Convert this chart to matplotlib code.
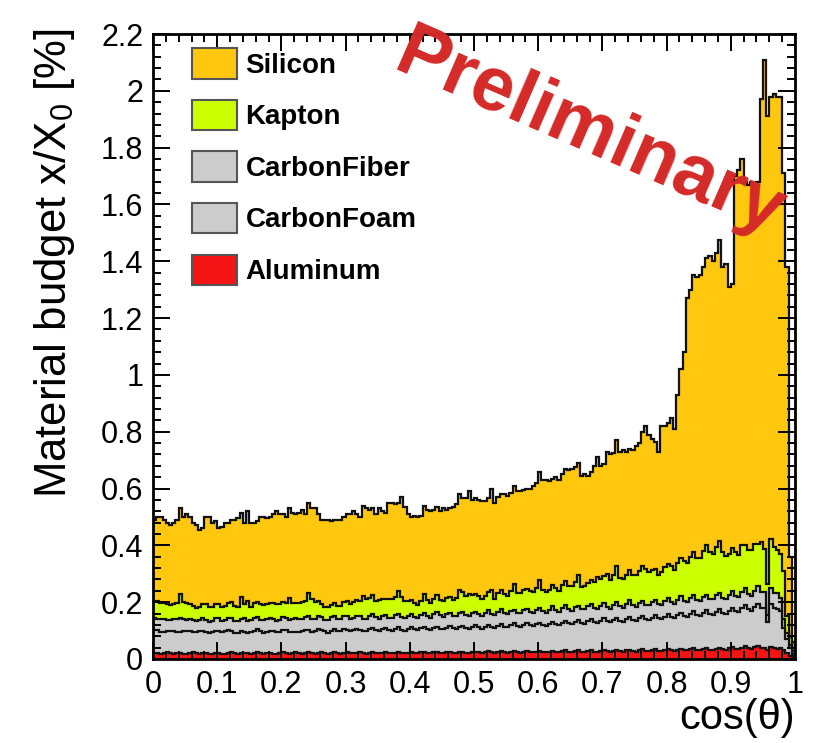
import numpy as np
import matplotlib
matplotlib.use("Agg")
import matplotlib.pyplot as plt
from matplotlib.patches import Patch
from matplotlib.ticker import MultipleLocator, FuncFormatter

plt.rcParams["font.family"] = ["Liberation Sans", "DejaVu Sans"]
plt.rcParams["mathtext.default"] = "regular"

# 200 bins in cos(theta) from 0 to 1
n_bins = 200
x_min, x_max = 0.0, 1.0

# material budget per bin, x/X0 in %
aluminum = [
    0.022, 0.020, 0.018, 0.021, 0.023, 0.020, 0.018, 0.020, 0.022, 0.019, 0.018, 0.021, 0.023, 0.020, 0.019, 0.020, 0.022, 0.019, 0.018, 0.021,
    0.022, 0.019, 0.018, 0.021, 0.023, 0.020, 0.018, 0.020, 0.022, 0.020, 0.019, 0.021, 0.023, 0.020, 0.018, 0.021, 0.022, 0.019, 0.019, 0.021,
    0.023, 0.020, 0.019, 0.021, 0.023, 0.020, 0.019, 0.021, 0.024, 0.020, 0.019, 0.021, 0.023, 0.021, 0.019, 0.021, 0.023, 0.020, 0.019, 0.022,
    0.023, 0.020, 0.020, 0.022, 0.024, 0.021, 0.019, 0.022, 0.024, 0.021, 0.020, 0.022, 0.024, 0.021, 0.020, 0.022, 0.025, 0.021, 0.020, 0.022,
    0.025, 0.021, 0.020, 0.023, 0.025, 0.022, 0.020, 0.023, 0.025, 0.022, 0.021, 0.023, 0.026, 0.022, 0.021, 0.023, 0.026, 0.022, 0.021, 0.024,
    0.026, 0.023, 0.021, 0.024, 0.027, 0.023, 0.022, 0.025, 0.027, 0.023, 0.022, 0.025, 0.028, 0.024, 0.022, 0.025, 0.028, 0.024, 0.023, 0.026,
    0.028, 0.025, 0.023, 0.026, 0.029, 0.025, 0.023, 0.027, 0.030, 0.025, 0.024, 0.027, 0.030, 0.026, 0.024, 0.028, 0.031, 0.026, 0.025, 0.028,
    0.031, 0.027, 0.025, 0.029, 0.032, 0.027, 0.026, 0.030, 0.033, 0.028, 0.026, 0.030, 0.034, 0.029, 0.027, 0.031, 0.035, 0.029, 0.028, 0.032,
    0.035, 0.030, 0.029, 0.033, 0.036, 0.031, 0.030, 0.034, 0.038, 0.032, 0.031, 0.035, 0.039, 0.033, 0.032, 0.036, 0.040, 0.034, 0.033, 0.037,
    0.041, 0.036, 0.034, 0.040, 0.045, 0.038, 0.036, 0.042, 0.046, 0.040, 0.037, 0.030, 0.044, 0.038, 0.036, 0.040, 0.030, 0.022, 0.012, 0.004,
]

carbon_foam = [
    0.080, 0.082, 0.078, 0.075, 0.074, 0.078, 0.080, 0.076, 0.072, 0.079, 0.081, 0.077, 0.073, 0.075, 0.078, 0.080, 0.074, 0.071, 0.076, 0.079,
    0.077, 0.075, 0.079, 0.081, 0.076, 0.073, 0.075, 0.078, 0.074, 0.071, 0.076, 0.079, 0.082, 0.078, 0.075, 0.073, 0.077, 0.080, 0.076, 0.074,
    0.078, 0.081, 0.077, 0.074, 0.072, 0.076, 0.079, 0.082, 0.078, 0.075, 0.079, 0.083, 0.080, 0.076, 0.074, 0.078, 0.081, 0.077, 0.080, 0.083,
    0.080, 0.077, 0.081, 0.084, 0.079, 0.076, 0.080, 0.083, 0.086, 0.081, 0.078, 0.082, 0.085, 0.081, 0.079, 0.083, 0.086, 0.082, 0.080, 0.084,
    0.087, 0.083, 0.081, 0.085, 0.088, 0.084, 0.082, 0.086, 0.089, 0.085, 0.083, 0.087, 0.090, 0.086, 0.084, 0.088, 0.091, 0.087, 0.085, 0.089,
    0.092, 0.088, 0.086, 0.090, 0.094, 0.089, 0.087, 0.092, 0.095, 0.091, 0.089, 0.093, 0.097, 0.092, 0.090, 0.095, 0.098, 0.094, 0.092, 0.096,
    0.100, 0.095, 0.094, 0.098, 0.103, 0.097, 0.096, 0.101, 0.105, 0.100, 0.098, 0.103, 0.107, 0.102, 0.100, 0.105, 0.110, 0.104, 0.102, 0.107,
    0.112, 0.106, 0.104, 0.109, 0.114, 0.108, 0.106, 0.111, 0.116, 0.110, 0.108, 0.113, 0.118, 0.112, 0.110, 0.115, 0.120, 0.114, 0.112, 0.117,
    0.123, 0.117, 0.115, 0.121, 0.127, 0.120, 0.118, 0.124, 0.130, 0.123, 0.121, 0.127, 0.133, 0.126, 0.124, 0.130, 0.136, 0.129, 0.127, 0.133,
    0.140, 0.133, 0.131, 0.138, 0.145, 0.137, 0.134, 0.141, 0.148, 0.140, 0.142, 0.100, 0.150, 0.143, 0.139, 0.130, 0.080, 0.050, 0.025, 0.008,
]

carbon_fiber = [
    0.042, 0.040, 0.044, 0.046, 0.041, 0.039, 0.043, 0.045, 0.050, 0.042, 0.040, 0.044, 0.041, 0.038, 0.042, 0.045, 0.043, 0.040, 0.039, 0.043,
    0.045, 0.041, 0.039, 0.043, 0.046, 0.042, 0.040, 0.044, 0.047, 0.043, 0.041, 0.045, 0.042, 0.039, 0.043, 0.046, 0.044, 0.041, 0.040, 0.044,
    0.046, 0.043, 0.041, 0.045, 0.048, 0.044, 0.042, 0.046, 0.049, 0.045, 0.043, 0.047, 0.044, 0.041, 0.045, 0.048, 0.046, 0.043, 0.042, 0.046,
    0.047, 0.044, 0.042, 0.046, 0.049, 0.045, 0.043, 0.047, 0.050, 0.046, 0.044, 0.048, 0.045, 0.042, 0.046, 0.049, 0.047, 0.044, 0.043, 0.047,
    0.048, 0.045, 0.043, 0.047, 0.050, 0.046, 0.044, 0.048, 0.051, 0.047, 0.045, 0.049, 0.046, 0.043, 0.047, 0.050, 0.048, 0.045, 0.044, 0.048,
    0.049, 0.046, 0.044, 0.048, 0.052, 0.047, 0.045, 0.050, 0.053, 0.048, 0.046, 0.051, 0.048, 0.045, 0.049, 0.052, 0.050, 0.047, 0.046, 0.050,
    0.051, 0.048, 0.046, 0.050, 0.054, 0.049, 0.047, 0.052, 0.055, 0.050, 0.048, 0.053, 0.050, 0.047, 0.051, 0.054, 0.052, 0.049, 0.048, 0.052,
    0.053, 0.050, 0.048, 0.052, 0.056, 0.051, 0.049, 0.054, 0.057, 0.052, 0.050, 0.055, 0.052, 0.049, 0.053, 0.056, 0.054, 0.051, 0.050, 0.054,
    0.055, 0.052, 0.050, 0.054, 0.058, 0.053, 0.051, 0.056, 0.059, 0.054, 0.052, 0.057, 0.054, 0.051, 0.055, 0.058, 0.056, 0.053, 0.052, 0.056,
    0.058, 0.054, 0.052, 0.057, 0.061, 0.055, 0.053, 0.058, 0.062, 0.056, 0.058, 0.025, 0.057, 0.053, 0.058, 0.045, 0.030, 0.020, 0.012, 0.005,
]

kapton = [
    0.060, 0.062, 0.058, 0.055, 0.057, 0.054, 0.052, 0.056, 0.085, 0.060, 0.057, 0.053, 0.050, 0.048, 0.045, 0.047, 0.055, 0.052, 0.049, 0.051,
    0.048, 0.047, 0.051, 0.053, 0.055, 0.052, 0.050, 0.075, 0.049, 0.070, 0.048, 0.051, 0.053, 0.056, 0.054, 0.052, 0.055, 0.058, 0.060, 0.056,
    0.055, 0.053, 0.078, 0.058, 0.055, 0.057, 0.062, 0.054, 0.080, 0.072, 0.060, 0.052, 0.047, 0.045, 0.046, 0.044, 0.046, 0.047, 0.045, 0.050,
    0.054, 0.053, 0.058, 0.055, 0.052, 0.080, 0.068, 0.062, 0.066, 0.055, 0.064, 0.060, 0.056, 0.068, 0.066, 0.064, 0.080, 0.072, 0.060, 0.050,
    0.046, 0.048, 0.047, 0.050, 0.065, 0.055, 0.052, 0.054, 0.060, 0.052, 0.056, 0.054, 0.057, 0.058, 0.062, 0.082, 0.070, 0.068, 0.078, 0.064,
    0.063, 0.066, 0.060, 0.061, 0.064, 0.085, 0.058, 0.064, 0.068, 0.067, 0.065, 0.070, 0.090, 0.072, 0.070, 0.071, 0.072, 0.074, 0.076, 0.078,
    0.100, 0.076, 0.072, 0.070, 0.075, 0.078, 0.074, 0.080, 0.085, 0.083, 0.086, 0.088, 0.110, 0.080, 0.082, 0.080, 0.086, 0.092, 0.112, 0.094,
    0.095, 0.115, 0.102, 0.104, 0.125, 0.098, 0.100, 0.102, 0.106, 0.104, 0.110, 0.112, 0.125, 0.128, 0.118, 0.112, 0.108, 0.100, 0.118, 0.120,
    0.122, 0.128, 0.120, 0.130, 0.135, 0.140, 0.138, 0.145, 0.150, 0.148, 0.152, 0.160, 0.175, 0.165, 0.158, 0.170, 0.185, 0.160, 0.150, 0.145,
    0.150, 0.155, 0.148, 0.168, 0.150, 0.155, 0.160, 0.165, 0.150, 0.175, 0.150, 0.110, 0.170, 0.160, 0.150, 0.155, 0.170, 0.060, 0.030, 0.010,
]

silicon = [
    0.286, 0.296, 0.302, 0.293, 0.285, 0.279, 0.287, 0.293, 0.301, 0.300, 0.314, 0.305, 0.293, 0.289, 0.271, 0.268, 0.306, 0.318, 0.298, 0.291,
    0.268, 0.283, 0.293, 0.282, 0.290, 0.303, 0.312, 0.298, 0.288, 0.316, 0.296, 0.284, 0.285, 0.307, 0.310, 0.303, 0.302, 0.312, 0.325, 0.315,
    0.308, 0.303, 0.315, 0.317, 0.312, 0.318, 0.323, 0.307, 0.319, 0.318, 0.329, 0.307, 0.296, 0.307, 0.306, 0.294, 0.294, 0.303, 0.304, 0.299,
    0.306, 0.316, 0.319, 0.303, 0.296, 0.318, 0.320, 0.311, 0.304, 0.307, 0.324, 0.308, 0.305, 0.338, 0.339, 0.327, 0.312, 0.351, 0.332, 0.307,
    0.294, 0.308, 0.309, 0.300, 0.312, 0.318, 0.322, 0.314, 0.310, 0.314, 0.325, 0.312, 0.311, 0.326, 0.331, 0.337, 0.330, 0.343, 0.362, 0.335,
    0.335, 0.337, 0.344, 0.332, 0.328, 0.356, 0.338, 0.339, 0.337, 0.351, 0.353, 0.346, 0.347, 0.357, 0.359, 0.352, 0.352, 0.361, 0.373, 0.370,
    0.381, 0.386, 0.395, 0.381, 0.374, 0.391, 0.390, 0.390, 0.395, 0.407, 0.414, 0.404, 0.393, 0.390, 0.393, 0.378, 0.381, 0.409, 0.423, 0.399,
    0.394, 0.432, 0.441, 0.431, 0.443, 0.446, 0.454, 0.433, 0.428, 0.441, 0.456, 0.450, 0.471, 0.502, 0.482, 0.461, 0.448, 0.436, 0.512, 0.497,
    0.495, 0.523, 0.496, 0.592, 0.664, 0.736, 0.933, 0.941, 0.973, 0.988, 0.994, 1.001, 1.009, 1.045, 1.031, 1.036, 1.058, 1.004, 1.028, 0.939,
    0.931, 1.322, 1.355, 1.357, 1.279, 1.285, 1.297, 1.264, 1.274, 1.559, 1.723, 1.645, 1.559, 1.596, 1.597, 1.610, 1.400, 1.228, 0.281, 0.033,
]

labels = ["Aluminum", "CarbonFoam", "CarbonFiber", "Kapton", "Silicon"]
fill_colors = ["#f41414", "#cccccc", "#cccccc", "#ccff00", "#ffc80e"]
legend_order = ["Silicon", "Kapton", "CarbonFiber", "CarbonFoam", "Aluminum"]

edges = np.linspace(x_min, x_max, n_bins + 1)
stack = np.cumsum(np.array([aluminum, carbon_foam, carbon_fiber, kapton, silicon]), axis=0)

fig = plt.figure(figsize=(8.23, 7.43), dpi=100)
ax = fig.add_axes([153 / 823, 84 / 743, 642 / 823, 625 / 743])

# draw the stack from the top layer down, each filled from zero
for k in reversed(range(len(labels))):
    z = 1.0 + (len(labels) - k) * 0.2
    ax.stairs(stack[k], edges, baseline=0, fill=True, facecolor=fill_colors[k],
              edgecolor="none", zorder=z)
    ax.stairs(stack[k], edges, baseline=0, color="#111111", linewidth=1.6, zorder=z + 0.1)

ax.set_xlim(0, 1)
ax.set_ylim(0, 2.2)
ax.set_axisbelow(False)

ax.xaxis.set_major_locator(MultipleLocator(0.1))
ax.xaxis.set_minor_locator(MultipleLocator(0.02))
ax.yaxis.set_major_locator(MultipleLocator(0.2))
ax.yaxis.set_minor_locator(MultipleLocator(0.04))
fmt = FuncFormatter(lambda v, p: f"{v:g}")
ax.xaxis.set_major_formatter(fmt)
ax.yaxis.set_major_formatter(fmt)

ax.tick_params(which="both", direction="in", top=True, right=True, width=1.4, color="black")
ax.tick_params(which="major", length=12, labelsize=22)
ax.tick_params(which="minor", length=6)
ax.tick_params(axis="x", which="major", pad=8)
ax.tick_params(axis="y", which="major", pad=7)
for s in ax.spines.values():
    s.set_linewidth(2.0)

fig.text(795 / 823, 1 - 718 / 743, "cos(\u03b8)", ha="right", va="center", fontsize=30)
fig.text(55 / 823, 1 - 28 / 743, "Material budget x/X$_{0}$ [%]", rotation=90,
         ha="center", va="top", fontsize=31.5)

handles = []
for name in legend_order:
    i = labels.index(name)
    handles.append(Patch(facecolor=fill_colors[i], edgecolor="#555555", linewidth=1.5, label=name))
ax.legend(handles=handles, loc="upper left", bbox_to_anchor=(0.061, 0.977), frameon=False,
          borderpad=0, borderaxespad=0, handlelength=1.62, handleheight=1.3,
          handletextpad=0.3, labelspacing=0.76, prop={"weight": "bold", "size": 20})

ax.text(0.68, 0.84, "Preliminary", transform=ax.transAxes, rotation=-23.5,
        rotation_mode="anchor", ha="center", va="center", fontsize=55,
        fontweight="bold", color="#d42a28", zorder=6, clip_on=False)

fig.savefig("out.png", dpi=100)
